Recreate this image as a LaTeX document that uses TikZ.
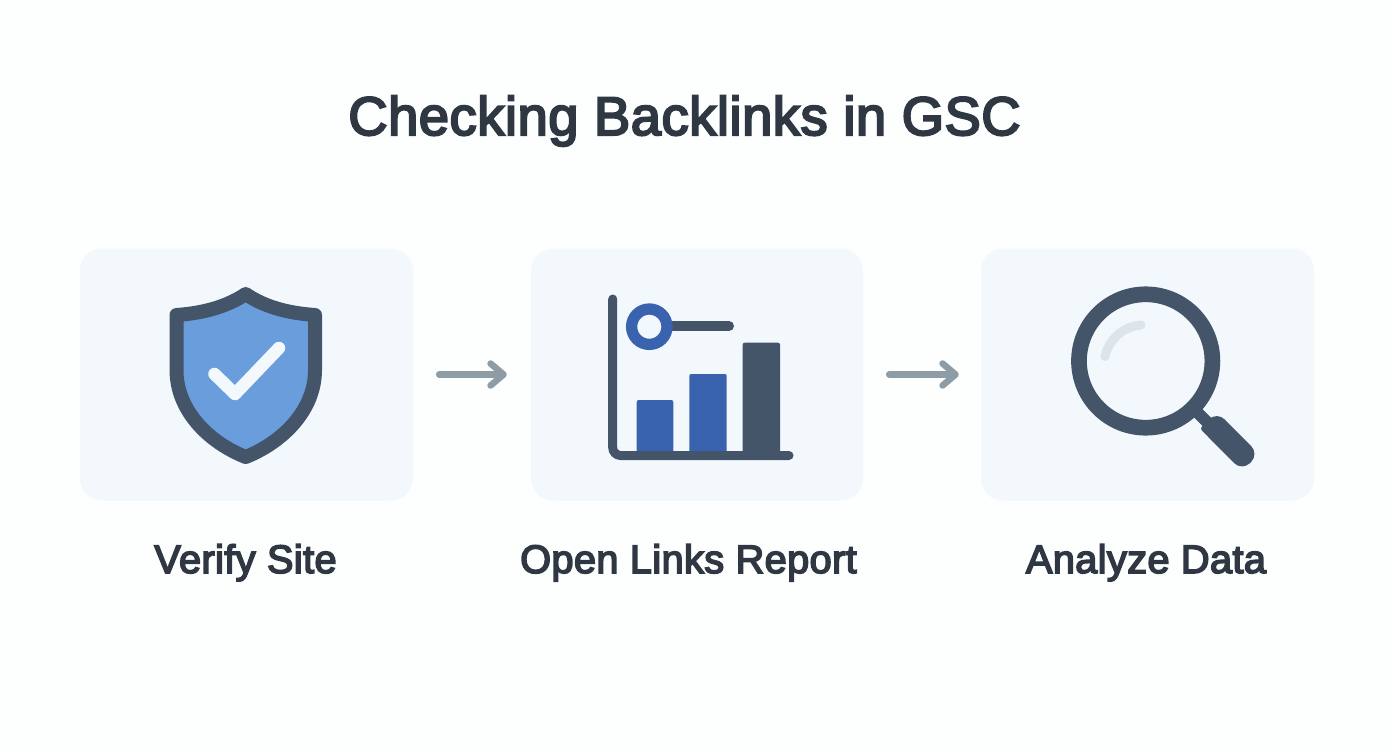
\documentclass[tikz,border=0pt]{standalone}
\usepackage{fontspec}
\setmainfont{Liberation Sans}[LetterSpace=1.0]
\usetikzlibrary{arrows.meta}

\definecolor{slatedark}{HTML}{445469}
\definecolor{shieldblue}{HTML}{6A9DDC}
\definecolor{barblue}{HTML}{3A63AF}
\definecolor{panelblue}{HTML}{F3F8FD}
\definecolor{arrowgrey}{HTML}{8E9CA6}
\definecolor{textdark}{HTML}{2F3743}
\definecolor{glint}{HTML}{DCE4EC}
\definecolor{paper}{HTML}{FDFEFE}

% Medium weight from the regular face
\newcommand{\heavier}[2]{\special{pdf:code 2 Tr #1 w}#2\special{pdf:code 0 Tr 1 w}}

\tikzset{
    panel/.style={fill=panelblue, rounded corners=22pt, minimum height=252pt, inner sep=0pt},
    steplabel/.style={font=\fontsize{39.7}{42}\selectfont, text=textdark, anchor=base, inner sep=0pt},
    flow/.style={draw=arrowgrey, line width=6.5pt, line cap=round, shorten <=26pt, shorten >=24pt,
        -{Straight Barb[length=13pt, width=22pt, round]}},
}

\begin{document}
\begin{tikzpicture}[x=1pt, y=-1pt]
        \useasboundingbox (0, 0) rectangle (1392, 752);
        \fill[paper] (0, 0) rectangle (1392, 752);

        % Title
        \node[anchor=base, inner sep=0pt, text=textdark, font=\fontsize{54.3}{56}\selectfont] (title) at (684.5, 135) {\heavier{2.1}{Checking Backlinks in GSC}};

        % Panels
        \node[panel, minimum width=333pt] (verify) at (246.5, 374.5) {};
        \node[panel, minimum width=332pt] (report) at (697, 374.5) {};
        \node[panel, minimum width=333pt] (analyze) at (1147.5, 374.5) {};

        % Arrows
        \draw[flow] (verify) -- (report);
        \draw[flow, shorten >=22pt] (report) -- (analyze);

        % Labels
        \node[steplabel] (verifylabel) at (245.5, 573) {\heavier{1.6}{Verify Site}};
        \node[steplabel] (reportlabel) at (688.5, 573) {\heavier{1.6}{Open Links Report}};
        \node[steplabel] (analyzelabel) at (1146, 573) {\heavier{1.6}{Analyze Data}};

        % Shield
        \draw[fill=shieldblue, draw=slatedark, line width=14pt, line join=round]
            (245.7, 294) .. controls (228, 306) and (205, 313) .. (176.5, 315)
            -- (176.5, 370) .. controls (176.5, 410) and (208, 442) .. (245.7, 457)
            .. controls (283, 442) and (315, 410) .. (315, 370)
            -- (315, 315) .. controls (286, 313) and (263, 306) .. cycle;
        \draw[panelblue, line width=12.5pt, line cap=round, line join=round]
            (214.5, 374) -- (235, 394) -- (279, 348);

        % Chart
        \fill[barblue, rounded corners=2pt] (636.7, 455) rectangle (673.3, 400);
        \fill[barblue, rounded corners=2pt] (689.3, 455) rectangle (726.7, 374);
        \fill[slatedark, rounded corners=2pt] (742.7, 455) rectangle (780, 342.7);
        \draw[slatedark, line width=9pt, line cap=round, rounded corners=8pt]
            (612.7, 299) -- (612.7, 455.5) -- (789, 455.5);
        \draw[slatedark, line width=10pt, line cap=round] (665, 326) -- (729, 326);
        \draw[barblue, line width=11.3pt, fill=panelblue] (649.3, 326.7) circle (17.7pt);

        % Magnifier
        \draw[slatedark, line width=12pt] (1190, 405) -- (1212, 427);
        \fill[slatedark, rounded corners=3pt] (1216.8, 411.5) -- (1199.8, 428.5)
            [rounded corners=11pt] -- (1242, 471) -- (1259, 454) -- cycle;
        \draw[slatedark, line width=15.7pt] (1145.7, 361) circle (66.7pt);
        \draw[glint, line width=9pt, line cap=round]
            (1105, 356.5) .. controls (1108, 341) and (1122, 326.5) .. (1141, 325);

    \end{tikzpicture}
\end{document}
